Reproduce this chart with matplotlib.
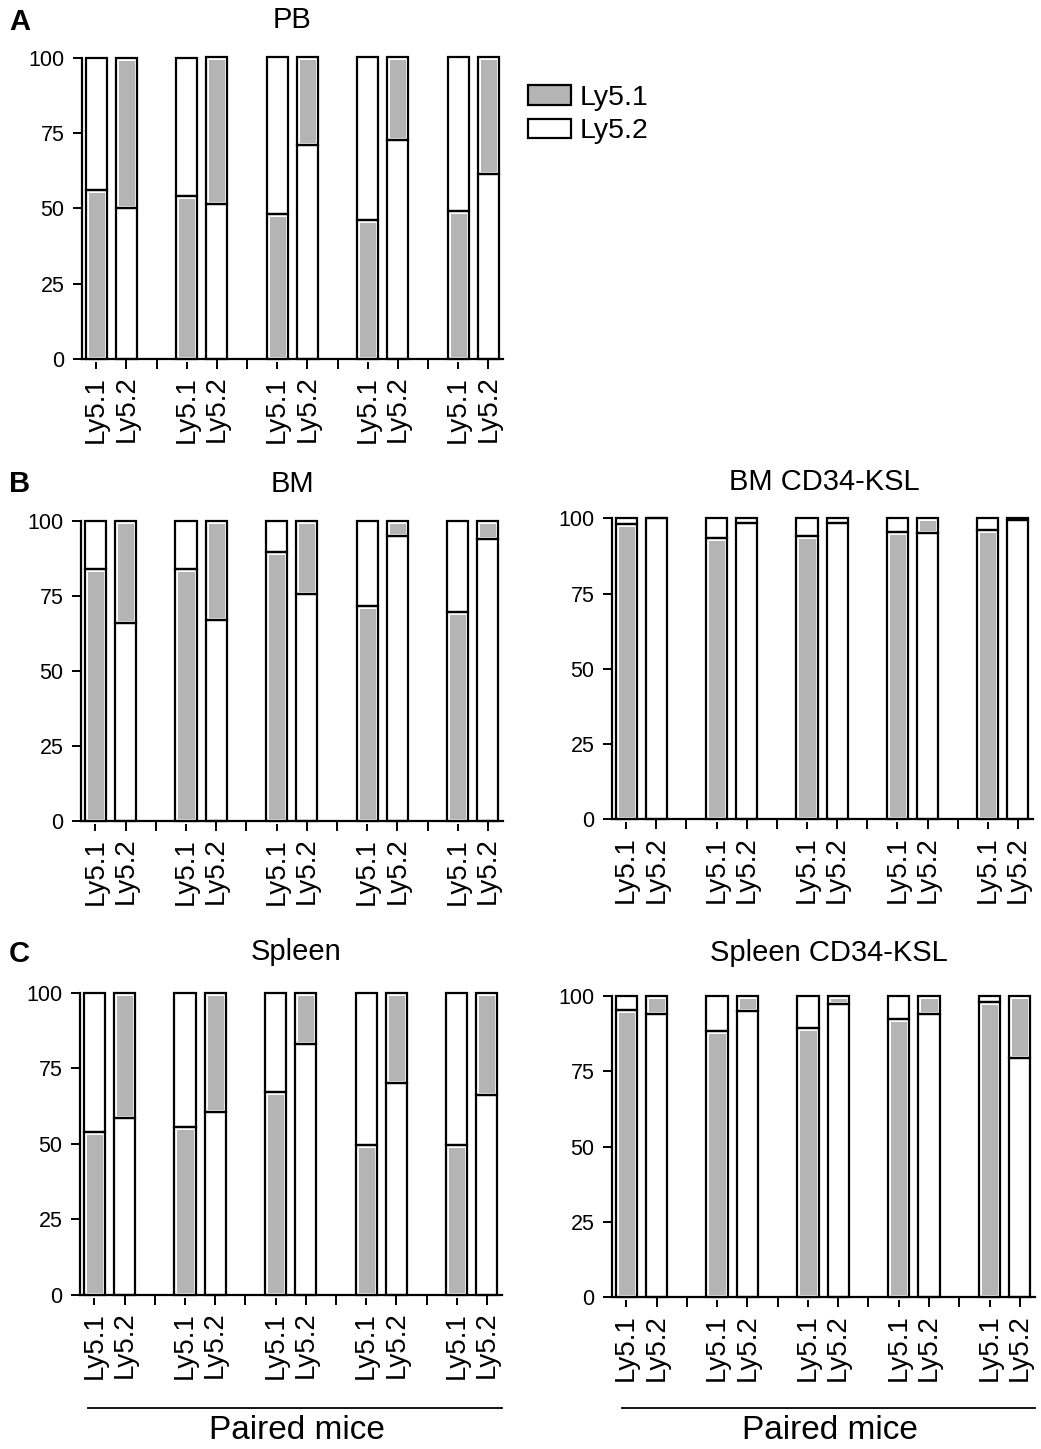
import matplotlib
matplotlib.use('Agg')
import matplotlib.pyplot as plt
from matplotlib.patches import Patch
from matplotlib.lines import Line2D
import numpy as np

plt.rcParams['font.family'] = ['Liberation Sans', 'DejaVu Sans']

W, H = 1041, 1449

mouse_labels = ['Ly5.1', 'Ly5.2']
legend_labels = ['Ly5.1', 'Ly5.2']

# % Ly5.1-derived cells in each Ly5.1 mouse / % Ly5.2-derived cells in each Ly5.2 mouse (5 pairs)
pb_ly51 = [56, 54, 48, 46, 49]
pb_ly52 = [50, 51.5, 71, 72.5, 61.5]
bm_ly51 = [84, 84, 89.5, 71.5, 69.5]
bm_ly52 = [66, 67, 75.5, 95, 94]
bmksl_ly51 = [98, 93.5, 94, 95.5, 96]
bmksl_ly52 = [100, 98.5, 98.5, 95, 99.3]
sp_ly51 = [54, 55.5, 67, 49.5, 49.5]
sp_ly52 = [58.5, 60.5, 83, 70, 66]
spksl_ly51 = [95.5, 88.5, 89.5, 92.5, 98]
spksl_ly52 = [94, 95, 97.5, 94, 79.5]

titles = ['PB', 'BM', 'BM CD34-KSL', 'Spleen', 'Spleen CD34-KSL']

GRAY = '#b4b4b4'
LW = 1.6

fig = plt.figure(figsize=(W / 100, H / 100), dpi=100)


def add_axes(left, top, right, bottom):
    return fig.add_axes([left / W, 1 - bottom / H, (right - left) / W, (bottom - top) / H])


def seg(ax, x, h, b, gray):
    if gray:
        bars = ax.bar(x, h, bottom=b, width=0.7, color=GRAY, edgecolor='white', linewidth=3.6,
                      clip_on=False, zorder=3)
        for p in bars:
            p.set_clip_path(p)
    else:
        ax.bar(x, h, bottom=b, width=0.7, color='white', linewidth=0, clip_on=False, zorder=3)
    ax.bar(x, h, bottom=b, width=0.7, facecolor='none', edgecolor='black', linewidth=LW,
           clip_on=False, zorder=4)


def draw(ax, ly51, ly52):
    ly51 = np.asarray(ly51, float)
    ly52 = np.asarray(ly52, float)
    n = len(ly51)
    x1 = np.arange(n) * 3
    x2 = x1 + 1
    seg(ax, x1, ly51, 0, True)
    seg(ax, x1, 100 - ly51, ly51, False)
    seg(ax, x2, ly52, 0, False)
    seg(ax, x2, 100 - ly52, ly52, True)
    ax.set_xlim(-0.48, 13.5)
    ax.set_ylim(0, 100)
    ax.set_yticks([0, 25, 50, 75, 100])
    pos = np.sort(np.concatenate([x1, x2]))
    ax.set_xticks(pos)
    ax.set_xticklabels(mouse_labels * n, rotation=90)
    ax.set_xticks(x1[:-1] + 2, minor=True)
    for s in ['top', 'right']:
        ax.spines[s].set_visible(False)
    for s in ['left', 'bottom']:
        ax.spines[s].set_linewidth(1.6)
        ax.spines[s].set_zorder(5)
    ax.tick_params(axis='y', which='major', labelsize=15.5, length=6.5, width=1.4, pad=6)
    ax.tick_params(axis='x', which='both', length=7, width=1.4)
    ax.tick_params(axis='x', which='major', labelsize=20, pad=5)


axA = add_axes(81.7, 57.5, 503.5, 359)
axB1 = add_axes(81, 520.7, 503, 821)
axB2 = add_axes(611.7, 518.3, 1033, 819.3)
axC1 = add_axes(80, 992.7, 502, 1295)
axC2 = add_axes(611.7, 996, 1035, 1297.3)

draw(axA, pb_ly51, pb_ly52)
draw(axB1, bm_ly51, bm_ly52)
draw(axB2, bmksl_ly51, bmksl_ly52)
draw(axC1, sp_ly51, sp_ly52)
draw(axC2, spksl_ly51, spksl_ly52)

# titles
title_pos = [(292, 28.3), (292, 491.5), (824, 490), (296, 960), (829, 961)]
for t, (x, y) in zip(titles, title_pos):
    fig.text(x / W, 1 - y / H, t, fontsize=21, ha='center', va='baseline')

# panel letters
for lab, y in [('A', 30), ('B', 492.5), ('C', 961.5)]:
    fig.text(9 / W, 1 - y / H, lab, fontsize=21, fontweight='bold', ha='left', va='baseline')

# legend
handles = [Patch(facecolor=GRAY, edgecolor='black', linewidth=LW),
           Patch(facecolor='white', edgecolor='black', linewidth=LW)]
fig.legend(handles, legend_labels, loc='upper left', bbox_to_anchor=(528 / W, 1 - 85 / H),
           frameon=False, fontsize=20.5, handlelength=1.5, handleheight=0.65,
           handletextpad=0.3, labelspacing=0.25, borderpad=0, borderaxespad=0)

# "Paired mice" brackets
for x0, x1, xc in [(88, 502, 296.7), (622, 1035, 830)]:
    fig.add_artist(Line2D([x0 / W, x1 / W], [1 - 1407.8 / H] * 2, transform=fig.transFigure,
                          color='black', linewidth=1.3))
    fig.text(xc / W, 1 - 1439 / H, 'Paired mice', fontsize=24, ha='center', va='baseline')

fig.savefig('out.png', dpi=100)
